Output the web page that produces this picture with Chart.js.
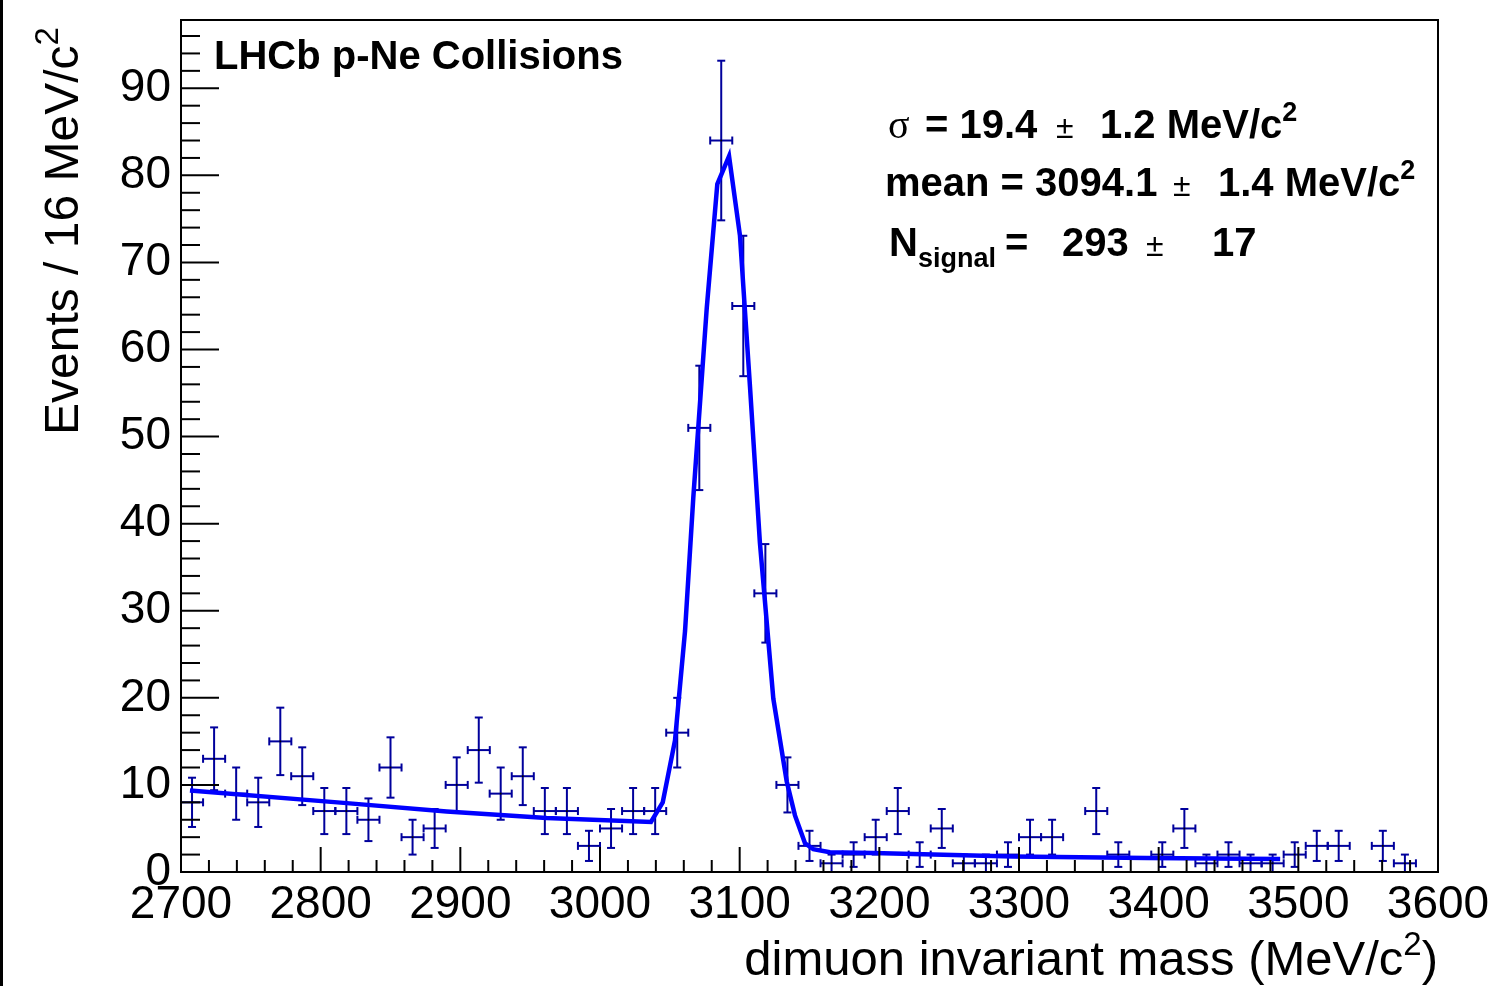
<!DOCTYPE html>
<html>
<head>
<meta charset="utf-8">
<title>LHCb p-Ne dimuon invariant mass</title>
<script src="https://cdn.jsdelivr.net/npm/chart.js@4.4.1/dist/chart.umd.min.js"></script>
<style>
  html, body { margin: 0; padding: 0; background: #fff; }
  #wrap { width: 1491px; height: 986px; }
</style>
</head>
<body>
<div id="wrap"><canvas id="massChart" width="1491" height="986"></canvas></div>
<script>
// bin centres in MeV/c2 (57 bins from 2700 to 3600)
const binCenters = [
  2707.9, 2723.7, 2739.5, 2755.3, 2771.1, 2786.8, 2802.6, 2818.4, 2834.2, 2850.0,
  2865.8, 2881.6, 2897.4, 2913.2, 2928.9, 2944.7, 2960.5, 2976.3, 2992.1, 3007.9,
  3023.7, 3039.5, 3055.3, 3071.1, 3086.8, 3102.6, 3118.4, 3134.2, 3150.0, 3165.8,
  3181.6, 3197.4, 3213.2, 3228.9, 3244.7, 3260.5, 3276.3, 3292.1, 3307.9, 3323.7,
  3339.5, 3355.3, 3371.1, 3386.8, 3402.6, 3418.4, 3434.2, 3450.0, 3465.8, 3481.6,
  3497.4, 3513.2, 3528.9, 3544.7, 3560.5, 3576.3, 3592.1
];
// events per bin
const counts = [
  8, 13, 9, 8, 15, 11, 7, 7, 6, 12,
  4, 5, 10, 14, 9, 11, 7, 7, 3, 5,
  7, 7, 16, 51, 84, 65, 32, 10, 3, 1,
  2, 4, 7, 2, 5, 1, 1, 2, 4, 4,
  0, 7, 2, 0, 2, 5, 1, 2, 1, 1,
  2, 3, 3, 0, 3, 1, 0
];
// fit curve as drawn (mass, value)
const fitMass = [
  2706.4, 2818.6, 2890.2, 2961.8, 3036.5, 3044.9, 3053.7, 3060.9, 3066.8, 3076.4,
  3084.0, 3092.4, 3100.2, 3107.4, 3114.5, 3124.1, 3133.7, 3139.6, 3146.8, 3152.7,
  3164.6, 3195.7, 3295.9, 3391.4, 3487.0
];
const fitValue = [
  9.36, 7.91, 6.95, 6.19, 5.75, 7.99, 15.1, 27.7, 43.0, 64.7,
  79.0, 82.2, 73.1, 55.7, 37.8, 19.9, 10.4, 6.5, 3.3, 2.63,
  2.28, 2.17, 1.78, 1.6, 1.48
];
const xTickValues = [2700, 2800, 2900, 3000, 3100, 3200, 3300, 3400, 3500, 3600];
const yTickValues = [0, 10, 20, 30, 40, 50, 60, 70, 80, 90];

const SANS = "'Liberation Sans', Arial, Helvetica, sans-serif";
const SERIF = "'Liberation Serif', 'Times New Roman', serif";
const barColor = '#00009c';

function line(ctx, x1, y1, x2, y2) {
  ctx.beginPath();
  ctx.moveTo(x1, y1);
  ctx.lineTo(x2, y2);
  ctx.stroke();
}

// draws pieces of text one after the other, returns end x
function drawRuns(ctx, x, y, runs) {
  runs.forEach(function(r) {
    ctx.font = r.font;
    ctx.fillText(r.text, x, y + (r.dy || 0));
    x += ctx.measureText(r.text).width;
  });
  return x;
}

// error bars under the markers
const errorBars = {
  id: 'errorBars',
  beforeDatasetsDraw(chart) {
    const ctx = chart.ctx, xs = chart.scales.x, ys = chart.scales.y;
    const half = (xs.getPixelForValue(binCenters[1]) - xs.getPixelForValue(binCenters[0])) / 2;
    const cap = 4;
    ctx.save();
    ctx.strokeStyle = barColor;
    ctx.lineWidth = 2;
    counts.forEach(function(n, i) {
      if (n <= 0) return;
      const cx = xs.getPixelForValue(binCenters[i]);
      const cy = ys.getPixelForValue(n);
      const err = Math.sqrt(n);
      const yt = ys.getPixelForValue(n + err);
      const yb = ys.getPixelForValue(Math.max(n - err, 0));
      line(ctx, cx - half, cy, cx + half, cy);
      line(ctx, cx - half, cy - cap, cx - half, cy + cap);
      line(ctx, cx + half, cy - cap, cx + half, cy + cap);
      line(ctx, cx, yt, cx, yb);
      line(ctx, cx - cap, yt, cx + cap, yt);
      line(ctx, cx - cap, yb, cx + cap, yb);
    });
    ctx.restore();
  }
};

// ROOT style frame, inward ticks and all the labels
const rootFrame = {
  id: 'rootFrame',
  afterDraw(chart) {
    const ctx = chart.ctx, a = chart.chartArea;
    const xs = chart.scales.x, ys = chart.scales.y;
    ctx.save();
    ctx.fillStyle = '#000';
    ctx.fillRect(0, 0, 3, chart.height);

    ctx.strokeStyle = '#000';
    ctx.lineWidth = 2;
    ctx.strokeRect(a.left, a.top, a.right - a.left, a.bottom - a.top);

    // x ticks, minor every 20
    for (let m = xs.min; m <= xs.max; m += 20) {
      const px = xs.getPixelForValue(m);
      const len = (m - xs.min) % 100 === 0 ? 25 : 12;
      line(ctx, px, a.bottom, px, a.bottom - len);
    }
    // y ticks, minor every 2
    for (let v = 0; v <= ys.max; v += 2) {
      const py = ys.getPixelForValue(v);
      const len = v % 10 === 0 ? 38 : 19;
      line(ctx, a.left, py, a.left + len, py);
    }

    ctx.textAlign = 'left';
    ctx.textBaseline = 'alphabetic';

    // x axis title, right aligned at the frame edge
    const xt = [
      { text: 'dimuon invariant mass (MeV/c', font: '49px ' + SANS },
      { text: '2', font: '33px ' + SANS, dy: -20 },
      { text: ')', font: '49px ' + SANS }
    ];
    let w = 0;
    xt.forEach(function(r) { ctx.font = r.font; w += ctx.measureText(r.text).width; });
    drawRuns(ctx, a.right - w, 975, xt);

    // y axis title, rotated
    ctx.save();
    ctx.translate(78, 435);
    ctx.rotate(-Math.PI / 2);
    drawRuns(ctx, 0, 0, [
      { text: 'Events / 16 MeV/c', font: '48px ' + SANS },
      { text: '2', font: '33px ' + SANS, dy: -20 }
    ]);
    ctx.restore();

    // experiment label
    ctx.font = 'bold 40px ' + SANS;
    ctx.fillText('LHCb p-Ne Collisions', 214, 69);

    // fit results
    const B = 'bold 40px ' + SANS, S = 'bold 27px ' + SANS, PM = '32px ' + SANS;
    drawRuns(ctx, 888, 138, [{ text: '\u03c3', font: '40px ' + SERIF }]);
    drawRuns(ctx, 925, 138, [{ text: '= 19.4', font: B }]);
    drawRuns(ctx, 1056, 138, [{ text: '\u00b1', font: PM }]);
    drawRuns(ctx, 1100, 138, [{ text: '1.2 MeV/c', font: B }, { text: '2', font: S, dy: -17 }]);

    drawRuns(ctx, 885, 196, [{ text: 'mean = 3094.1', font: B }]);
    drawRuns(ctx, 1173, 196, [{ text: '\u00b1', font: PM }]);
    drawRuns(ctx, 1218, 196, [{ text: '1.4 MeV/c', font: B }, { text: '2', font: S, dy: -17 }]);

    drawRuns(ctx, 889, 256, [{ text: 'N', font: B }, { text: 'signal', font: S, dy: 11 }]);
    drawRuns(ctx, 1005, 256, [{ text: '=', font: B }]);
    drawRuns(ctx, 1062, 256, [{ text: '293', font: B }]);
    drawRuns(ctx, 1146, 256, [{ text: '\u00b1', font: PM }]);
    drawRuns(ctx, 1212, 256, [{ text: '17', font: B }]);
    ctx.restore();
  }
};

const pointData = [];
counts.forEach(function(n, i) {
  if (n > 0) pointData.push({ x: binCenters[i], y: n });
});
const curveData = fitMass.map(function(m, i) { return { x: m, y: fitValue[i] }; });

const tickFont = { family: SANS, size: 46 };
function plainLabel(v) { return String(v); }

new Chart(document.getElementById('massChart'), {
  type: 'scatter',
  data: {
    datasets: [
      {
        label: 'fit',
        data: curveData,
        showLine: true,
        borderColor: '#0000ff',
        borderWidth: 4.5,
        borderJoinStyle: 'miter',
        pointRadius: 0,
        tension: 0
      },
      {
        label: 'data',
        data: pointData,
        pointStyle: 'rect',
        pointRadius: 1.2,
        backgroundColor: '#000',
        borderWidth: 0
      }
    ]
  },
  options: {
    responsive: false,
    animation: false,
    devicePixelRatio: 1,
    layout: { padding: { top: 20, right: 53, bottom: 0, left: 0 } },
    plugins: {
      legend: { display: false },
      tooltip: { enabled: false }
    },
    scales: {
      x: {
        type: 'linear',
        min: 2700,
        max: 3600,
        grid: { display: false, drawTicks: false },
        border: { display: false },
        afterBuildTicks: function(s) { s.ticks = xTickValues.map(function(v) { return { value: v }; }); },
        afterFit: function(s) {
          s.height = 114;
          s.paddingLeft = 0; s.paddingRight = 0; s.paddingTop = 0; s.paddingBottom = 0;
        },
        ticks: { font: tickFont, color: '#000', padding: 6, maxRotation: 0, autoSkip: false, callback: plainLabel }
      },
      y: {
        type: 'linear',
        min: 0,
        max: 97.84,
        grid: { display: false, drawTicks: false },
        border: { display: false },
        afterBuildTicks: function(s) { s.ticks = yTickValues.map(function(v) { return { value: v }; }); },
        afterFit: function(s) {
          s.width = 181;
          s.paddingLeft = 0; s.paddingRight = 0; s.paddingTop = 0; s.paddingBottom = 0;
        },
        ticks: { font: tickFont, color: '#000', padding: 10, autoSkip: false, callback: plainLabel }
      }
    }
  },
  plugins: [errorBars, rootFrame]
});
</script>
</body>
</html>
